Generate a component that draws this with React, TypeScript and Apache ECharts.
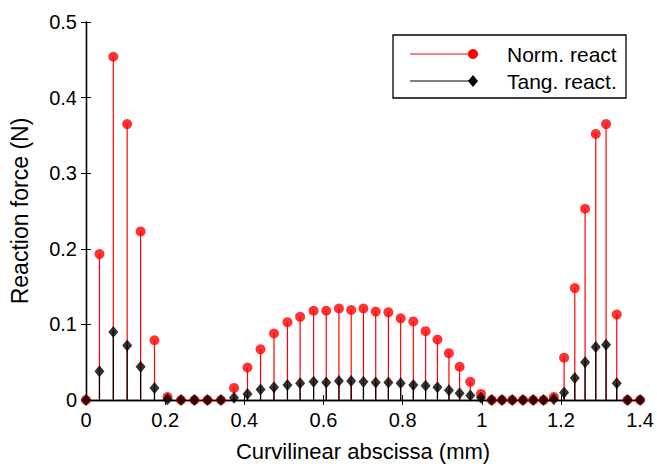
import React, { useEffect, useRef } from "react";
import * as echarts from "echarts";

const xValues = [0, 0.034, 0.069, 0.104, 0.138, 0.173, 0.206, 0.240, 0.274, 0.307, 0.341, 0.374, 0.408, 0.441, 0.475, 0.509, 0.541, 0.575, 0.607, 0.639, 0.670, 0.701, 0.732, 0.764, 0.795, 0.827, 0.858, 0.888, 0.917, 0.944, 0.971, 0.998, 1.025, 1.051, 1.077, 1.104, 1.130, 1.156, 1.182, 1.208, 1.235, 1.261, 1.288, 1.314, 1.341, 1.368, 1.400];

const normReact = [0, 0.193, 0.454, 0.365, 0.223, 0.079, 0.004, 0, 0, 0, 0, 0.016, 0.043, 0.067, 0.088, 0.103, 0.110, 0.118, 0.118, 0.121, 0.119, 0.121, 0.117, 0.116, 0.108, 0.104, 0.091, 0.080, 0.062, 0.044, 0.024, 0.008, 0, 0, 0, 0, 0, 0, 0.004, 0.056, 0.148, 0.253, 0.352, 0.365, 0.113, 0, 0];

const tangReact = [0, 0.038, 0.090, 0.072, 0.044, 0.016, 0.001, 0, 0, 0, 0, 0.003, 0.008, 0.014, 0.017, 0.020, 0.022, 0.024, 0.023, 0.025, 0.025, 0.024, 0.023, 0.023, 0.022, 0.020, 0.019, 0.017, 0.013, 0.009, 0.006, 0.003, 0, 0, 0, 0, 0, 0, 0.001, 0.010, 0.029, 0.050, 0.070, 0.073, 0.022, 0, 0];

const seriesNames = ["Norm. react", "Tang. react."];
const xLabel = "Curvilinear abscissa (mm)";
const yLabel = "Reaction force (N)";

const FONT = "'Liberation Sans', Arial, Helvetica, sans-serif";

function stemSeries(values: number[], color: string) {
  return {
    type: "custom",
    clip: false,
    silent: true,
    data: xValues.map((x, i) => [x, values[i]]),
    encode: { x: 0, y: 1 },
    renderItem: (params: any, api: any) => {
      const x = api.value(0);
      const v = api.value(1);
      const p0 = api.coord([x, 0]);
      const p1 = api.coord([x, v]);
      return {
        type: "line",
        shape: { x1: p0[0], y1: p0[1], x2: p1[0], y2: p1[1] },
        style: { stroke: color, lineWidth: 1.2 },
      };
    },
  };
}

export default function App() {
  const ref = useRef<HTMLDivElement>(null);
  useEffect(() => {
    if (!ref.current) return;
    const chart = echarts.init(ref.current, undefined, { renderer: "svg" });
    const axisCommon = {
      axisLine: { show: true, lineStyle: { color: "#000", width: 1.3 } },
      axisTick: { show: true, inside: true, length: 5, lineStyle: { color: "#000" } },
      splitLine: { show: false },
    };
    chart.setOption({
      animation: false,
      backgroundColor: "#fff",
      textStyle: { fontFamily: FONT },
      grid: { left: 86, right: 16, top: 22, bottom: 66, containLabel: false },
      xAxis: [
        {
          type: "value",
          min: 0,
          max: 1.4,
          interval: 0.2,
          position: "bottom",
          ...axisCommon,
          axisLabel: { color: "#000", fontSize: 20, fontFamily: FONT, margin: 10 },
          name: xLabel,
          nameLocation: "middle",
          nameGap: 40,
          nameTextStyle: { color: "#000", fontSize: 22, fontFamily: FONT },
        },
        {
          type: "value",
          min: 0,
          max: 1.4,
          interval: 0.2,
          position: "top",
          ...axisCommon,
          axisLabel: { show: false },
        },
      ],
      yAxis: [
        {
          type: "value",
          min: 0,
          max: 0.5,
          interval: 0.1,
          position: "left",
          ...axisCommon,
          axisLabel: { color: "#000", fontSize: 20, fontFamily: FONT, margin: 9 },
          name: yLabel,
          nameLocation: "middle",
          nameGap: 55,
          nameRotate: 90,
          nameTextStyle: { color: "#000", fontSize: 23, fontFamily: FONT },
        },
        {
          type: "value",
          min: 0,
          max: 0.5,
          interval: 0.1,
          position: "right",
          ...axisCommon,
          axisLabel: { show: false },
        },
      ],
      series: [
        stemSeries(normReact, "#ff0000"),
        {
          type: "scatter",
          name: seriesNames[0],
          clip: false,
          symbol: "circle",
          symbolSize: 10,
          itemStyle: { color: "#ff0000" },
          data: xValues.map((x, i) => [x, normReact[i]]),
        },
        stemSeries(tangReact, "#000000"),
        {
          type: "scatter",
          name: seriesNames[1],
          clip: false,
          symbol: "diamond",
          symbolSize: [10, 12],
          itemStyle: { color: "#000000" },
          data: xValues.map((x, i) => [x, tangReact[i]]),
        },
      ],
      graphic: [
        {
          type: "group",
          z: 100,
          children: [
            {
              type: "rect",
              shape: { x: 393, y: 35, width: 233, height: 63 },
              style: { fill: "#fff", stroke: "#000", lineWidth: 1.3 },
            },
            {
              type: "line",
              shape: { x1: 410, y1: 54, x2: 473, y2: 54 },
              style: { stroke: "#ff0000", lineWidth: 1.2 },
            },
            {
              type: "circle",
              shape: { cx: 473, cy: 54, r: 5 },
              style: { fill: "#ff0000" },
            },
            {
              type: "text",
              x: 507,
              y: 54,
              style: {
                text: seriesNames[0],
                fill: "#000",
                font: `21px ${FONT}`,
                verticalAlign: "middle",
              },
            },
            {
              type: "line",
              shape: { x1: 410, y1: 81, x2: 473, y2: 81 },
              style: { stroke: "#000", lineWidth: 1.2 },
            },
            {
              type: "polygon",
              shape: { points: [[473, 75], [478, 81], [473, 87], [468, 81]] },
              style: { fill: "#000" },
            },
            {
              type: "text",
              x: 507,
              y: 81,
              style: {
                text: seriesNames[1],
                fill: "#000",
                font: `21px ${FONT}`,
                verticalAlign: "middle",
              },
            },
          ],
        },
      ],
    });
    return () => chart.dispose();
  }, []);
  return (
    <div
      ref={ref}
      style={{ position: "absolute", left: 0, top: 0, width: 657, height: 467, background: "#fff" }}
    />
  );
}
